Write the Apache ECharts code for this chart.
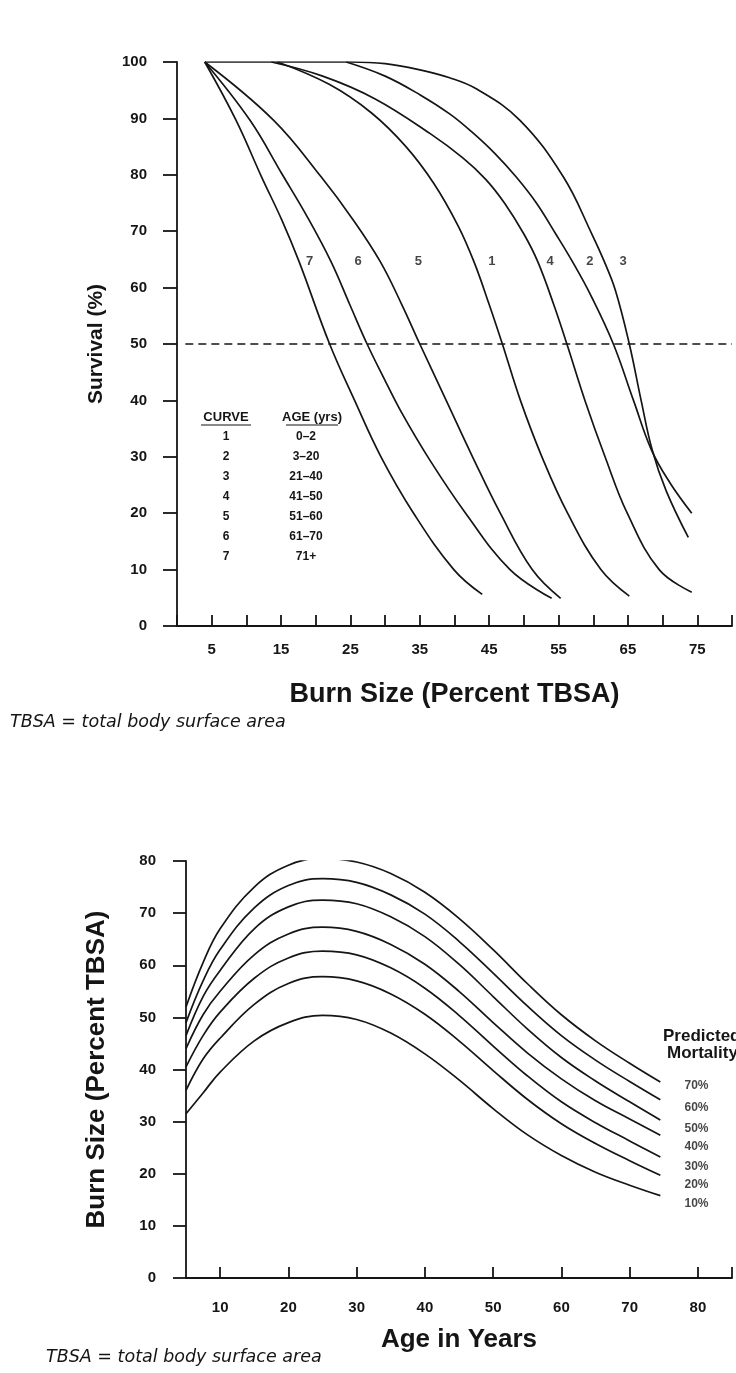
<!DOCTYPE html>
<html><head><meta charset="utf-8">
<script src="https://cdn.jsdelivr.net/npm/echarts@6/dist/echarts.min.js"></script>
<style>html,body{margin:0;padding:0;background:#fff}#c{width:736px;height:1373px}</style>
</head><body><div id="c"></div>
<script>
// ===== Top chart: survival (%) vs burn size (% TBSA) =====
const burnSizeLabels = [5, 15, 25, 35, 45, 55, 65, 75];
const curve1 = [[14.5,100],[22,96],[28,91],[33,85],[37,78.5],[40.5,71],[42.8,64.6],[45,57],[46.9,50],[49.5,40],[52.6,30],[56.3,20],[61.1,10],[65.2,5.3]];
const curve2 = [[24.4,100],[30,97.5],[35,94.2],[39.3,90.8],[42.5,87.6],[45.8,83.8],[48.9,79.6],[51.8,75],[54.6,69.5],[57,64.6],[59.7,58.5],[62.9,50],[65.8,40],[68.4,31.2],[71,25.5],[74.2,20]];
const curve3 = [[4,100],[25,100],[30,99.7],[35,98.6],[39.3,97.2],[43.2,95.2],[49.4,89.7],[55.7,79.6],[59.8,69.5],[61.6,64.6],[63.2,59.5],[65.2,50],[66.9,40],[68.5,31.2],[70.5,24],[73.7,15.7]];
const curve4 = [[13.6,100],[21,97.5],[28.5,93.5],[36.5,87.3],[41.2,83],[44.5,79.2],[47.2,75],[50,69.5],[52,64.6],[54.3,57],[56.2,50],[58.8,40],[61.7,30],[64.9,20],[69.5,10],[74.2,6]];
const curve5 = [[4,100],[13.9,89.7],[20.8,79.6],[25.4,72],[29.3,64.6],[32.4,57],[35,50],[38.8,40],[42.6,30],[46.6,20],[51.2,10],[55.3,4.9]];
const curve6 = [[4,100],[10.5,89.7],[15.2,80],[18.8,72.5],[22.2,64.6],[24.9,57],[27.4,50],[29.8,44],[32.3,38],[36.4,29.5],[41.6,20],[48,10],[54,4.9]];
const curve7 = [[4,100],[8.5,89.7],[12.2,79.6],[15.1,72],[17.6,64.6],[22,50],[25.6,40],[29.4,30],[34.1,20],[39.9,10],[44,5.6]];
const survivalCurves = [curve1, curve2, curve3, curve4, curve5, curve6, curve7];
const curveNames = ['1', '2', '3', '4', '5', '6', '7'];
const curveLabelX = [45.4, 59.5, 64.3, 53.8, 34.8, 26.1, 19.1];
const curveLabelY = 64.6;
const legendAges = ['0–2', '3–20', '21–40', '41–50', '51–60', '61–70', '71+'];
const survivalThreshold = 50;

// ===== Bottom chart: burn size vs age, by predicted mortality =====
const ageX = [5, 7.5, 10, 15, 20, 25, 30, 35, 40, 45, 50, 55, 60, 65, 70, 74.5];
const mort70 = [52, 60.5, 67, 75, 79.2, 80.5, 79.8, 77.6, 74, 69, 63, 56.5, 50.5, 45.5, 41.2, 37.6];
const mort60 = [49, 57, 63, 71, 75.3, 76.6, 75.9, 73.5, 69.8, 64.6, 58.5, 52.2, 46.5, 41.8, 37.7, 34.2];
const mort50 = [46.5, 54, 59, 67, 71.2, 72.5, 71.8, 69.3, 65.5, 60.2, 54, 47.8, 42.3, 37.8, 33.8, 30.3];
const mort40 = [44, 50.5, 55, 62, 66, 67.3, 66.5, 64, 60.2, 55, 49, 43.2, 38.2, 34, 30.5, 27.4];
const mort30 = [40.5, 46.5, 51, 57.5, 61.4, 62.7, 62, 59.5, 55.6, 50.4, 44.5, 38.8, 33.8, 29.8, 26.3, 23.2];
const mort20 = [36, 42, 46, 52.5, 56.5, 57.8, 57, 54.5, 50.6, 45.5, 39.8, 34.3, 29.6, 25.8, 22.5, 19.7];
const mort10 = [31.5, 35.5, 39.5, 45.5, 49, 50.4, 49.6, 47, 43, 38, 32.5, 27.5, 23.5, 20.3, 17.8, 15.8];
const mortalitySeries = [mort70, mort60, mort50, mort40, mort30, mort20, mort10];
const mortalityNames = ['70%', '60%', '50%', '40%', '30%', '20%', '10%'];
const mortalityLabelY = [36.8, 32.7, 28.7, 25.1, 21.4, 17.9, 14.2];
const mortalityLabelX = 79.8;
const ageLabels = [10, 20, 30, 40, 50, 60, 70, 80];
const ageExtraTicks = [85];

// ===== styling =====
const FAM = "'Liberation Sans',Arial,sans-serif";
const INK = '#151515';

function curveSeries(data, idx) {
  return {
    type: 'line', xAxisIndex: idx, yAxisIndex: idx, data: data,
    smooth: 0.4, showSymbol: false, symbol: 'none', silent: true,
    lineStyle: { color: INK, width: 1.7 }, z: 3
  };
}

const series = [];
survivalCurves.forEach((c, i) => {
  const s = curveSeries(c, 0);
  if (i === 0) {
    s.markLine = {
      silent: true, symbol: 'none', label: { show: false },
      lineStyle: { color: INK, width: 1.6, type: [8, 5] },
      data: [[{ xAxis: 1.2, yAxis: survivalThreshold }, { xAxis: 80, yAxis: survivalThreshold }]]
    };
  }
  series.push(s);
});
series.push({
  type: 'scatter', xAxisIndex: 0, yAxisIndex: 0, symbolSize: 0.1, silent: true,
  itemStyle: { color: 'rgba(0,0,0,0)' },
  data: curveNames.map((n, i) => [curveLabelX[i], curveLabelY, n]),
  label: { show: true, position: 'inside', formatter: p => p.data[2],
    fontFamily: FAM, fontWeight: 'bold', fontSize: 13, color: INK }
});
mortalitySeries.forEach(m => {
  series.push(curveSeries(ageX.map((a, i) => [a, m[i]]), 1));
});
series.push({
  type: 'scatter', xAxisIndex: 1, yAxisIndex: 1, symbolSize: 0.1, silent: true,
  itemStyle: { color: 'rgba(0,0,0,0)' },
  data: mortalityNames.map((n, i) => [mortalityLabelX, mortalityLabelY[i], n]),
  label: { show: true, position: 'inside', formatter: p => p.data[2],
    fontFamily: FAM, fontWeight: 'bold', fontSize: 12, color: INK }
});

// legend table (text) for the top chart
const graphics = [];
const tableHeadY = 417, rowY0 = 437, rowStep = 20, colA = 226, colB = 306;
graphics.push({ type: 'text', x: colA, y: tableHeadY, style: { text: 'CURVE', fill: INK, font: "bold 13px " + FAM, align: 'center', verticalAlign: 'middle' } });
graphics.push({ type: 'text', x: colB + 6, y: tableHeadY, style: { text: 'AGE (yrs)', fill: INK, font: "bold 13px " + FAM, align: 'center', verticalAlign: 'middle' } });
graphics.push({ type: 'line', shape: { x1: colA - 25, y1: tableHeadY + 8, x2: colA + 25, y2: tableHeadY + 8 }, style: { stroke: INK, lineWidth: 1.2 } });
graphics.push({ type: 'line', shape: { x1: colB - 20, y1: tableHeadY + 8, x2: colB + 32, y2: tableHeadY + 8 }, style: { stroke: INK, lineWidth: 1.2 } });
curveNames.forEach((n, i) => {
  graphics.push({ type: 'text', x: colA, y: rowY0 + i * rowStep, style: { text: n, fill: INK, font: "bold 12px " + FAM, align: 'center', verticalAlign: 'middle' } });
  graphics.push({ type: 'text', x: colB, y: rowY0 + i * rowStep, style: { text: legendAges[i], fill: INK, font: "bold 12px " + FAM, align: 'center', verticalAlign: 'middle' } });
});
graphics.push({ type: 'text', x: 10, y: 722, style: { text: 'TBSA = total body surface area', fill: INK, font: "italic 17.5px 'DejaVu Sans',sans-serif", align: 'left', verticalAlign: 'middle' } });
graphics.push({ type: 'text', x: 46, y: 1357, style: { text: 'TBSA = total body surface area', fill: INK, font: "italic 17.5px 'DejaVu Sans',sans-serif", align: 'left', verticalAlign: 'middle' } });
graphics.push({ type: 'text', x: 663, y: 1036, style: { text: 'Predicted', fill: INK, font: "bold 17px " + FAM, align: 'left', verticalAlign: 'middle' } });
graphics.push({ type: 'text', x: 667, y: 1053, style: { text: 'Mortality', fill: INK, font: "bold 17px " + FAM, align: 'left', verticalAlign: 'middle' } });

const axisLineStyle = { color: INK, width: 1.8 };
const tickLabel = { color: INK, fontFamily: FAM, fontWeight: 'bold', fontSize: 15 };

const option = {
  backgroundColor: '#ffffff',
  animation: false,
  grid: [
    { left: 177, top: 62, width: 555, height: 564 },
    { left: 186, top: 861, width: 546, height: 417 }
  ],
  xAxis: [
    {
      type: 'value', gridIndex: 0, min: 0, max: 80, interval: 5,
      axisLine: { show: true, lineStyle: axisLineStyle },
      axisTick: { show: true, inside: true, length: 11, lineStyle: axisLineStyle },
      axisLabel: Object.assign({ margin: 16, formatter: v => (burnSizeLabels.indexOf(v) >= 0 ? String(v) : '') }, tickLabel),
      splitLine: { show: false },
      name: 'Burn Size (Percent TBSA)', nameLocation: 'middle', nameGap: 55,
      nameTextStyle: { color: INK, fontFamily: FAM, fontWeight: 'bold', fontSize: 27 }
    },
    {
      type: 'value', gridIndex: 1, min: 5, max: 85,
      axisLine: { show: true, lineStyle: axisLineStyle },
      axisTick: { show: true, inside: true, length: 11, lineStyle: axisLineStyle, customValues: ageLabels.concat(ageExtraTicks) },
      axisLabel: Object.assign({ margin: 22, customValues: ageLabels }, tickLabel),
      splitLine: { show: false },
      name: 'Age in Years', nameLocation: 'middle', nameGap: 49,
      nameTextStyle: { color: INK, fontFamily: FAM, fontWeight: 'bold', fontSize: 26 }
    }
  ],
  yAxis: [
    {
      type: 'value', gridIndex: 0, min: 0, max: 100, interval: 10,
      axisLine: { show: true, lineStyle: axisLineStyle },
      axisTick: { show: true, inside: false, length: 14, lineStyle: axisLineStyle },
      axisLabel: Object.assign({ margin: 30 }, tickLabel),
      splitLine: { show: false },
      name: 'Survival (%)', nameLocation: 'middle', nameGap: 70, nameRotate: 90,
      nameTextStyle: { color: INK, fontFamily: FAM, fontWeight: 'bold', fontSize: 21 }
    },
    {
      type: 'value', gridIndex: 1, min: 0, max: 80, interval: 10,
      axisLine: { show: true, lineStyle: axisLineStyle },
      axisTick: { show: true, inside: false, length: 13, lineStyle: axisLineStyle },
      axisLabel: Object.assign({ margin: 30 }, tickLabel),
      splitLine: { show: false },
      name: 'Burn Size (Percent TBSA)', nameLocation: 'middle', nameGap: 76, nameRotate: 90,
      nameTextStyle: { color: INK, fontFamily: FAM, fontWeight: 'bold', fontSize: 26 }
    }
  ],
  graphic: graphics,
  series: series
};

const chart = echarts.init(document.getElementById('c'), null, { renderer: 'canvas' });
chart.setOption(option);
</script>
</body></html>
